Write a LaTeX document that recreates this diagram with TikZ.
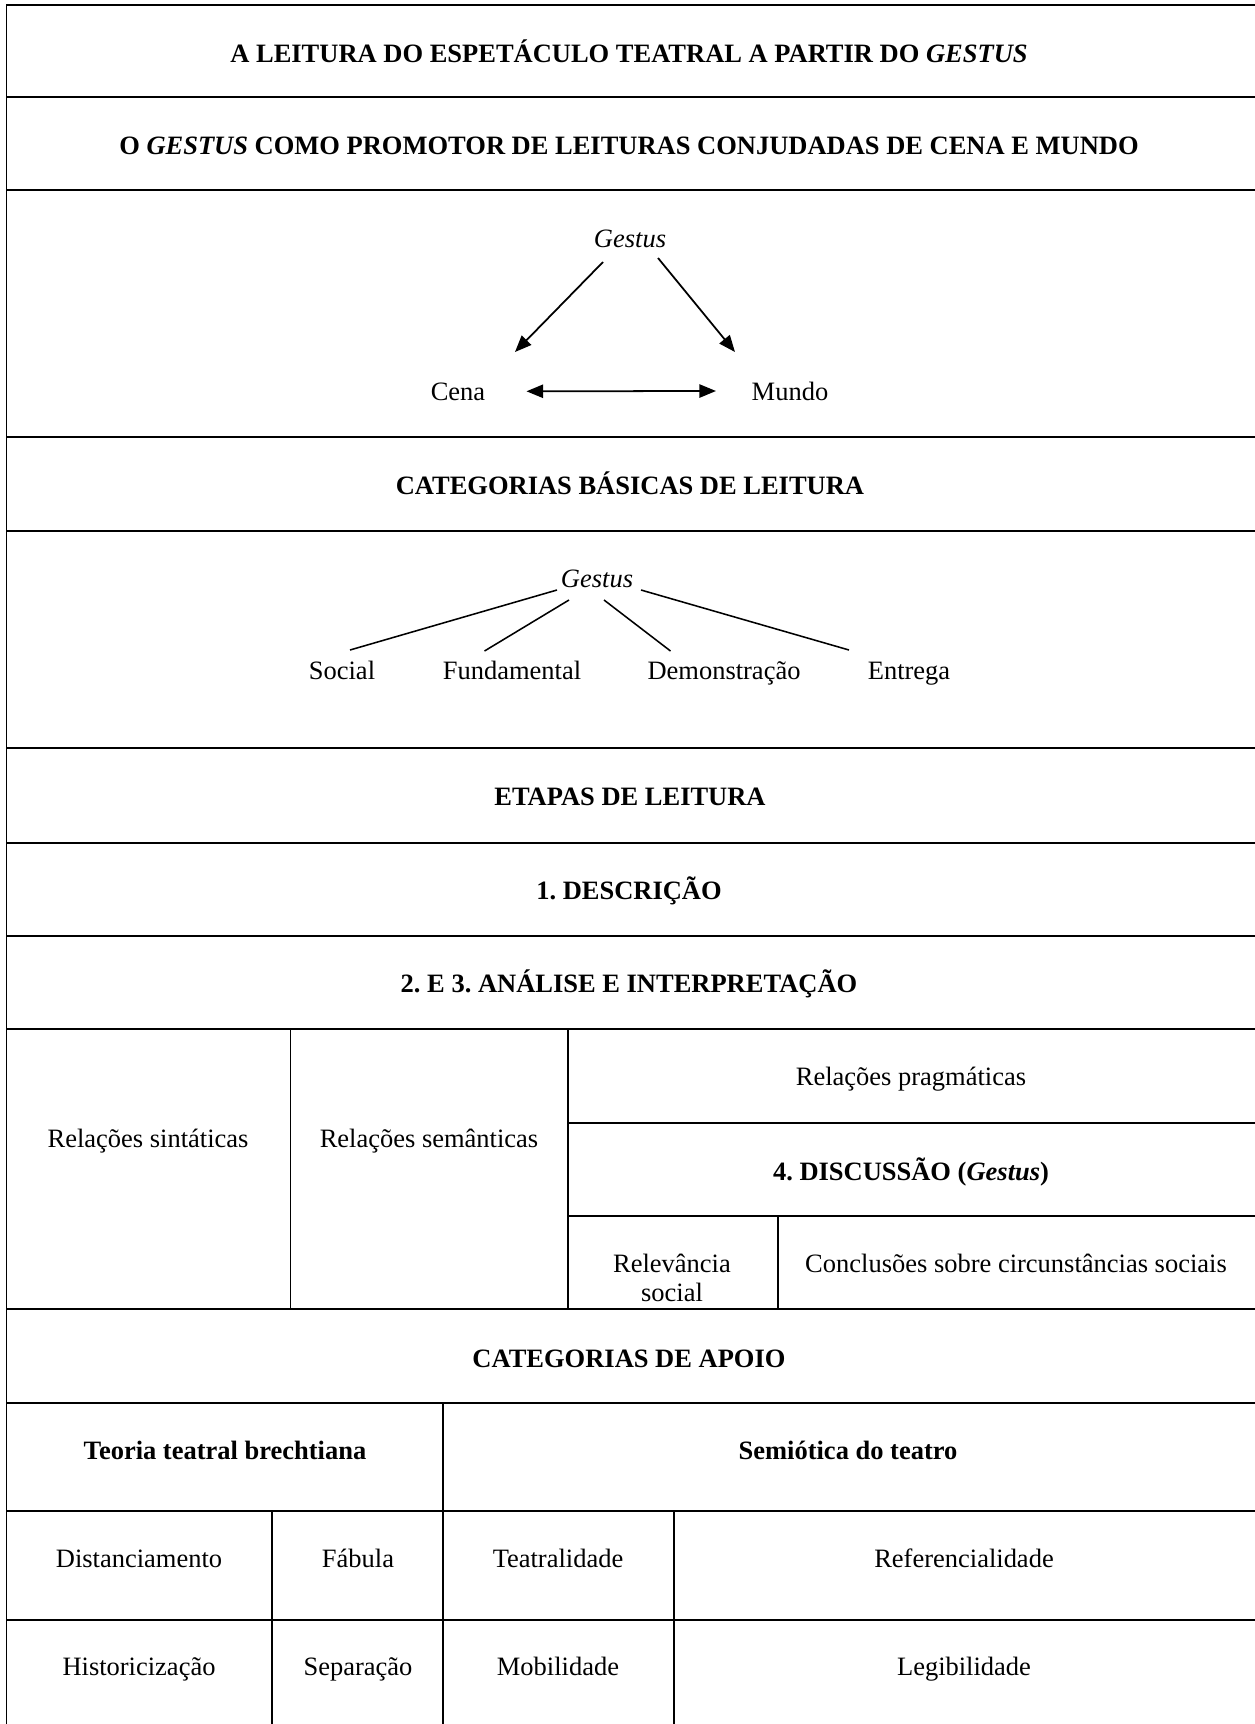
\documentclass[12pt,tikz,border=0pt]{standalone}
\usepackage{fontspec}
\setmainfont{Liberation Serif}
\usetikzlibrary{arrows.meta,calc}
\frenchspacing

\tikzset{
	tablepicture/.style = {
		x = 0.453pt,
		y = -0.453pt,
		rule/.style = {
			draw,
			line width = 0.9pt,
			line cap = rect,
		},
		arrow/.style = {
			draw,
			line width = 0.8pt,
			-{Triangle[length=7.5pt, width=6pt]},
		},
		branch/.style = {
			draw,
			line width = 0.7pt,
		}
	},
	cell/.style = {
		inner sep = 0pt,
		anchor = base,
		font = \fontsize{12}{13}\selectfont
	},
	head/.style = {
		cell,
		font = \fontsize{12}{13}\selectfont\bfseries
	}
}

\begin{document}
\begin{tikzpicture}[tablepicture]
	\useasboundingbox (0,0) rectangle (1255,1724);

	% table rules
	\begin{scope}[every path/.style = rule]
		\path (1255,5) -- (6.5,5) -- (6.5,1724);
		\foreach \y in {97,190,437,531,748,843,936,1029,1309,1403,1511,1620}
			\path (6.5,\y) -- (1255,\y);
		\path (567.5,1123) -- (1255,1123);
		\path (567.5,1216) -- (1255,1216);
		\path (290.5,1029) -- (290.5,1309);
		\path (567.5,1029) -- (567.5,1309);
		\path (778,1216) -- (778,1309);
		\path (443,1403) -- (443,1724);
		\path (272,1511) -- (272,1724);
		\path (674,1511) -- (674,1724);
	\end{scope}

	\node[head] (title) at (629,62) {A LEITURA DO ESPETÁCULO TEATRAL A PARTIR DO \textit{GESTUS}};
	\node[head] (promotor) at (629,154) {O \textit{GESTUS} COMO PROMOTOR DE LEITURAS CONJUDADAS DE CENA E MUNDO};

	\node[cell] (gestus) at (630,247) {\textit{Gestus}};
	\node[cell] (cena) at (458,400) {Cena};
	\node[cell] (mundo) at (790,400) {Mundo};

	\node[head] (basicas) at (630,494) {CATEGORIAS BÁSICAS DE LEITURA};
	\node[cell] (gestus2) at (597,587) {\textit{Gestus}};
	\node[cell] (social) at (342,679) {Social};
	\node[cell] (fundamental) at (512,679) {Fundamental};
	\node[cell] (demonstracao) at (724,679) {Demonstração};
	\node[cell] (entrega) at (909,679) {Entrega};

	\node[head] (etapas) at (630,805) {ETAPAS DE LEITURA};
	\node[head] (descricao) at (629,899) {1. DESCRIÇÃO};
	\node[head] (analise) at (629,992) {2. E 3. ANÁLISE E INTERPRETAÇÃO};
	\node[cell] (sintaticas) at (148,1147) {Relações sintáticas};
	\node[cell] (semanticas) at (429,1147) {Relações semânticas};
	\node[cell] (pragmaticas) at (911,1085) {Relações pragmáticas};
	\node[head] (discussao) at (911,1180) {4. DISCUSSÃO (\textit{Gestus})};
	\node[cell, align=center] (relevancia) at (672,1301) {Relevância\\social};
	\node[cell] (conclusoes) at (1016,1272) {Conclusões sobre circunstâncias sociais};

	\node[head] (apoio) at (629,1367) {CATEGORIAS DE APOIO};
	\node[head] (brecht) at (225,1459) {Teoria teatral brechtiana};
	\node[head] (semiotica) at (848,1459) {Semiótica do teatro};
	\node[cell] (distanciamento) at (139,1567) {Distanciamento};
	\node[cell] (fabula) at (358,1567) {Fábula};
	\node[cell] (teatralidade) at (558,1567) {Teatralidade};
	\node[cell] (referencialidade) at (964,1567) {Referencialidade};
	\node[cell] (historicizacao) at (139,1675) {Historicização};
	\node[cell] (separacao) at (358,1675) {Separação};
	\node[cell] (mobilidade) at (558,1675) {Mobilidade};
	\node[cell] (legibilidade) at (964,1675) {Legibilidade};

	\begin{scope}[every path/.style = arrow]
		\path ($(gestus.base)+(-27,15)$) -- ($(cena.base)+(57,-48)$);
		\path ($(gestus.base)+(28,11)$) -- ($(mundo.base)+(-55,-48)$);
		\path[{Triangle[length=7.5pt, width=6pt]}-{Triangle[length=7.5pt, width=6pt]},
			shorten <=18.5pt, shorten >=16pt] (cena.east) -- (mundo.west);
	\end{scope}

	\begin{scope}[every path/.style = branch]
		\path ($(gestus2.base)+(-40,3)$) -- ($(social.base)+(8,-29)$);
		\path ($(gestus2.base)+(-28,13)$) -- ($(fundamental.base)+(-27.5,-28)$);
		\path ($(gestus2.base)+(7,13)$) -- ($(demonstracao.base)+(-53.5,-28)$);
		\path ($(gestus2.base)+(44,3)$) -- ($(entrega.base)+(-60,-29)$);
	\end{scope}
\end{tikzpicture}
\end{document}
